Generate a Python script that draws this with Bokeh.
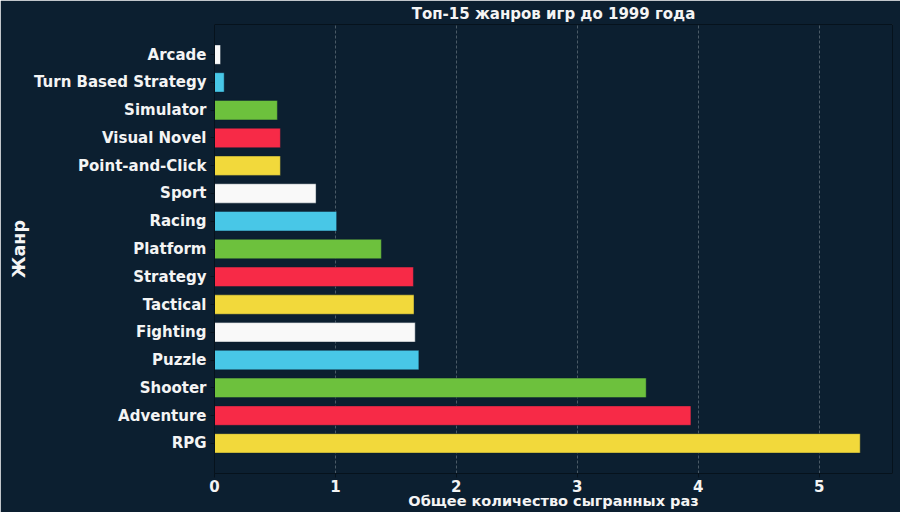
from bokeh.plotting import figure
from bokeh.models import FactorRange, Range1d, FixedTicker, CustomJSTickFormatter, Label, ColumnDataSource
from bokeh.embed import file_html
from bokeh.resources import INLINE

genres = ["RPG", "Adventure", "Shooter", "Puzzle", "Fighting", "Tactical", "Strategy",
          "Platform", "Racing", "Sport", "Point-and-Click", "Visual Novel", "Simulator",
          "Turn Based Strategy", "Arcade"]
plays = [5.34e12, 3.94e12, 3.57e12, 1.69e12, 1.66e12, 1.65e12, 1.645e12,
         1.38e12, 1.01e12, 0.84e12, 0.545e12, 0.545e12, 0.52e12,
         0.08e12, 0.05e12]
palette = ["#f2d93b", "#f72a47", "#6dc13d", "#48c7e7", "#f9f9f9"]
x_ticks = [0, 1e12, 2e12, 3e12, 4e12, 5e12]

BG = "#0c1f30"
FG = "#f4f4f4"
FONT = "DejaVu Sans"

colors = [palette[i % len(palette)] for i in range(len(genres))]
src = ColumnDataSource(dict(genre=genres, plays=plays, color=colors))

p = figure(width=900, height=512, output_backend="svg", toolbar_location=None,
           y_range=FactorRange(factors=genres, range_padding=0.585, range_padding_units="absolute"),
           x_range=Range1d(0, max(plays) * 1.05),
           title="Топ-15 жанров игр до 1999 года",
           min_border_left=214, min_border_right=8, min_border_top=23, min_border_bottom=39)

p.hbar(y="genre", right="plays", left=0, height=0.7, fill_color="color",
       line_color="#0c1f30", line_alpha=0.45, line_width=1, source=src)

p.background_fill_color = BG
p.border_fill_color = BG
p.outline_line_color = "#06121c"
p.outline_line_width = 1

p.title.align = "center"
p.title.text_color = FG
p.title.text_font = FONT
p.title.text_font_size = "15px"
p.title.standoff = 4
p.title.offset = 0

p.xaxis.ticker = FixedTicker(ticks=x_ticks)
p.xaxis.formatter = CustomJSTickFormatter(code="return (tick/1e12).toFixed(0);")
p.xaxis.axis_label = "Общее количество сыгранных раз"
p.yaxis.axis_label = "Жанр"

for ax in (p.xaxis, p.yaxis):
    ax.axis_line_color = "#06121c"
    ax.major_tick_line_color = "#06121c"
    ax.minor_tick_line_color = None
    ax.major_tick_in = 0
    ax.major_tick_out = 4
    ax.major_label_text_color = FG
    ax.major_label_text_font = FONT
    ax.major_label_text_font_style = "bold"
    ax.axis_label_text_color = FG
    ax.axis_label_text_font = FONT
    ax.axis_label_text_font_style = "bold"

p.xaxis.major_label_text_font_size = "15px"
p.xaxis.major_label_standoff = 2
p.xaxis.axis_label_text_font_size = "14.5px"
p.xaxis.axis_label_standoff = -2
p.yaxis.major_label_text_font_size = "15px"
p.yaxis.major_label_standoff = 4
p.yaxis.axis_label_text_font_size = "17.5px"
p.yaxis.axis_label_standoff = 2

p.ygrid.grid_line_color = None
p.xgrid.grid_line_color = "#4a5a66"
p.xgrid.grid_line_dash = "3 2"
p.xgrid.grid_line_width = 1

p.add_layout(Label(x=677, y=-25, x_units="screen", y_units="screen", text="1e12",
                   text_align="right", text_baseline="middle", text_color="#888888",
                   text_font=FONT, text_font_size="12px", level="overlay"))

html = file_html(p, INLINE)
open("out.html", "w").write(html)
